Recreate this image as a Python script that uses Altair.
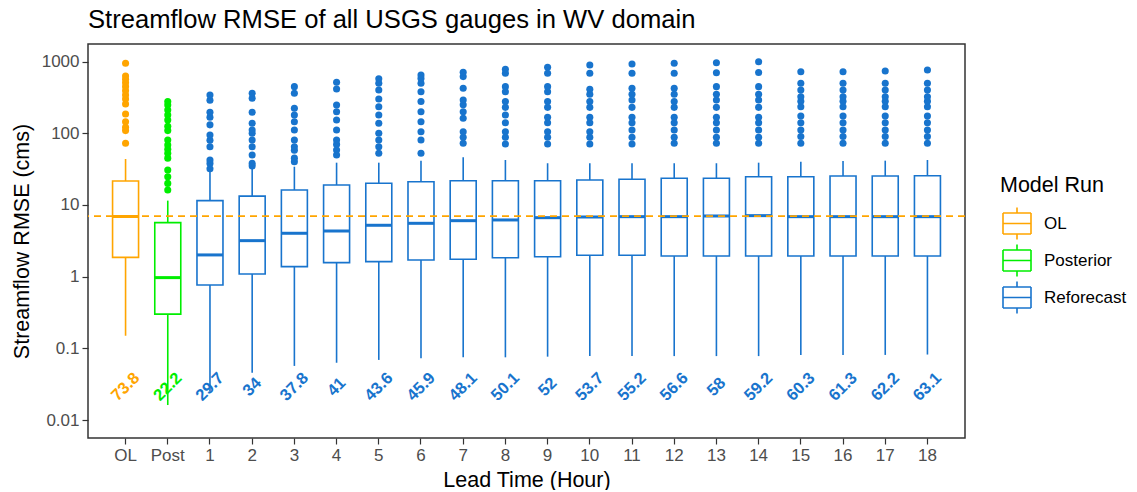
import altair as alt
import pandas as pd

# ---------------- data ----------------
categories = ["OL", "Post"] + [str(i) for i in range(1, 19)]
runs = ["OL", "Posterior"] + ["Reforecast"] * 18

whisker_low = [0.150, 0.0162, 0.025, 0.0458, 0.0569, 0.063, 0.069, 0.0728, 0.075, 0.075,
               0.0766, 0.078, 0.078, 0.078, 0.078, 0.078, 0.081, 0.081, 0.081, 0.082]
q1 = [1.86, 0.30, 0.766, 1.09, 1.38, 1.57, 1.62, 1.71, 1.75, 1.84,
      1.90, 1.99, 1.99, 1.94, 1.94, 1.94, 1.94, 1.94, 1.94, 1.94]
median = [6.9, 0.97, 2.01, 3.18, 4.03, 4.34, 5.21, 5.55, 6.04, 6.18,
          6.65, 6.8, 6.87, 6.87, 7.02, 7.1, 6.87, 6.87, 6.87, 6.87]
q3 = [21.6, 5.67, 11.5, 13.3, 16.2, 19.0, 20.1, 21.1, 21.8, 21.8,
      21.8, 22.3, 22.8, 23.6, 23.6, 24.8, 24.8, 25.4, 25.4, 25.6]
whisker_high = [43.8, 11.5, 29.1, 32.5, 34.2, 38.9, 38.9, 41.5, 46.3, 42.4,
                38.2, 38.2, 38.2, 38.2, 38.2, 38.9, 40.2, 41.1, 41.5, 42.4]
pct_labels = ["73.8", "22.2", "29.7", "34", "37.8", "41", "43.6", "45.9", "48.1", "50.1",
              "52", "53.7", "55.2", "56.6", "58", "59.2", "60.3", "61.3", "62.2", "63.1"]

outliers = [
    [72.5, 109, 121, 145, 186, 256, 300, 342, 393, 447, 508, 566, 630, 947],
    [16.2, 20, 24.8, 30.8, 45, 52.6, 60, 68.7, 80.7, 109, 125, 153, 180, 211, 248, 277],
    [32, 38, 42.4, 65, 80, 94.6, 131, 167, 196, 289, 342],
    [35, 38, 49.8, 65, 80.7, 100, 111, 138, 196, 308, 361],
    [40, 45, 58, 65, 80.7, 111, 145, 180, 223, 361, 447],
    [49.8, 58.5, 70, 80.7, 111, 153, 200, 248, 415, 514],
    [52.6, 65, 80.7, 100, 138, 180, 235, 300, 402, 500, 577],
    [52.6, 80.7, 105, 145, 200, 277, 380, 500, 583, 650],
    [72.5, 88, 105, 162, 200, 250, 291, 424, 617, 709],
    [71, 88, 105, 140, 180, 230, 277, 380, 447, 687, 781],
    [71, 88, 105, 140, 167, 230, 277, 380, 447, 687, 832],
    [71, 88, 105, 140, 167, 230, 277, 350, 411, 687, 897],
    [71, 88, 111, 140, 167, 230, 291, 350, 424, 687, 926],
    [72.5, 88, 111, 140, 167, 230, 277, 350, 424, 687, 947],
    [72.5, 88, 111, 140, 167, 230, 291, 350, 447, 698, 966],
    [72.5, 88, 111, 140, 167, 230, 291, 350, 447, 706, 997],
    [72.5, 90, 111, 140, 174, 235, 280, 324, 400, 498, 723],
    [72.5, 90, 111, 140, 174, 235, 280, 324, 400, 498, 723],
    [72.5, 90, 111, 140, 174, 235, 280, 324, 400, 498, 738],
    [72.5, 90, 111, 140, 174, 235, 280, 324, 400, 498, 763],
]

REF_LINE = 7.0      # OL median (dashed reference)
LABEL_Y = 0.029     # data-space height of the percentage labels

run_domain = ["OL", "Posterior", "Reforecast"]
run_colors = ["#FFA500", "#00EE00", "#1874CD"]

# ---------------- frames ----------------
box_df = pd.DataFrame({
    "cat": categories, "run": runs, "lo": whisker_low, "q1": q1,
    "med": median, "q3": q3, "hi": whisker_high, "lab": pct_labels,
    "ly": [LABEL_Y] * len(categories),
})
out_rows = []
for c, r, vals in zip(categories, runs, outliers):
    for v in vals:
        out_rows.append({"cat": c, "run": r, "val": v})
out_df = pd.DataFrame(out_rows)
ref_df = pd.DataFrame({"ref": [REF_LINE]})

FONT = "Liberation Sans"

x_enc = alt.X("cat:N", sort=categories, title="Lead Time (Hour)",
              scale=alt.Scale(paddingInner=0.38, paddingOuter=0.58),
              axis=alt.Axis(labelAngle=0, titleY=48, titleBaseline="alphabetic"))
y_scale = alt.Scale(type="log", domain=[0.00562, 1759], nice=False)
y_axis = alt.Axis(values=[0.01, 0.1, 1, 10, 100, 1000], format="~g",
                  titleX=-66, titleY=197, titleAngle=270, titleBaseline="middle",
                  titleAlign="center")

# boxplot legend key drawn only from open two-point segments (no fillable area)
glyph = ("M-0.875,-0.66L0.875,-0.66 M0.875,-0.66L0.875,0.66 "
         "M0.875,0.66L-0.875,0.66 M-0.875,0.66L-0.875,-0.66 "
         "M-0.875,0L0.875,0 M0,-0.66L0,-1 M0,0.66L0,1")

col_nolegend = alt.Color("run:N", scale=alt.Scale(domain=run_domain, range=run_colors),
                         legend=None)
col_legend = alt.Color("run:N", scale=alt.Scale(domain=run_domain, range=run_colors),
                       title="Model Run",
                       legend=alt.Legend(orient="none", legendX=912, legendY=131,
                                         symbolType=glyph, symbolSize=1024,
                                         symbolStrokeWidth=1.6, symbolFillColor="white",
                                         labelOffset=10, titlePadding=10, rowPadding=-10.6))

base = alt.Chart(box_df)

# whiskers first (stroke-only mark): its legend definition is the first one met
whisker_lower = base.mark_rule(strokeWidth=1.6).encode(
    x=x_enc,
    y=alt.Y("lo:Q", scale=y_scale, axis=y_axis, title="Streamflow RMSE (cms)"),
    y2="q1:Q",
    color=col_legend,
)
whisker_upper = base.mark_rule(strokeWidth=1.6).encode(
    x=x_enc,
    y=alt.Y("q3:Q", scale=y_scale),
    y2="hi:Q",
    color=col_nolegend,
)

boxes = base.mark_bar(size=26, filled=False, strokeWidth=1.6).encode(
    x=x_enc,
    y=alt.Y("q1:Q", scale=y_scale),
    y2="q3:Q",
    color=col_nolegend,
)

medians = base.mark_tick(size=26, thickness=3, opacity=1).encode(
    x=x_enc,
    y=alt.Y("med:Q", scale=y_scale),
    color=col_nolegend,
)

points = alt.Chart(out_df).mark_circle(size=50, opacity=1).encode(
    x=x_enc,
    y=alt.Y("val:Q", scale=y_scale),
    color=col_nolegend,
)

labels = base.mark_text(angle=315, fontSize=16.5, fontWeight="bold", font=FONT,
                        align="center", baseline="middle").encode(
    x=x_enc,
    y=alt.Y("ly:Q", scale=y_scale),
    text="lab:N",
    color=col_nolegend,
)

ref = alt.Chart(ref_df).mark_rule(color="#FFA500", strokeWidth=1.6,
                                  strokeDash=[7, 5]).encode(
    y=alt.Y("ref:Q", scale=y_scale),
)

chart = alt.layer(whisker_lower, whisker_upper, boxes, medians, points, labels, ref).properties(
    width=877, height=394,
    title=alt.TitleParams("Streamflow RMSE of all USGS gauges in WV domain",
                          anchor="start", frame="group", fontSize=25.6,
                          fontWeight="normal", color="black", font=FONT,
                          offset=10.5),
    autosize=alt.AutoSizeParams(type="none"),
    padding={"left": 80, "top": 36, "right": 164, "bottom": 52},
).configure_view(
    stroke="#333333", strokeWidth=1.5
).configure_axis(
    grid=False, domain=False, ticks=True, tickColor="#333333", tickWidth=1.2,
    tickSize=6, labelFont=FONT, labelFontSize=17, labelColor="#4D4D4D",
    labelPadding=3, titleFont=FONT, titleFontSize=21.5, titleColor="black",
    titleFontWeight="normal",
).configure_legend(
    titleFont=FONT, titleFontSize=21.5, titleFontWeight="normal", titleColor="black",
    labelFont=FONT, labelFontSize=17, labelColor="black",
)

chart.save("out.html", embed_options={"renderer": "svg", "actions": False})
